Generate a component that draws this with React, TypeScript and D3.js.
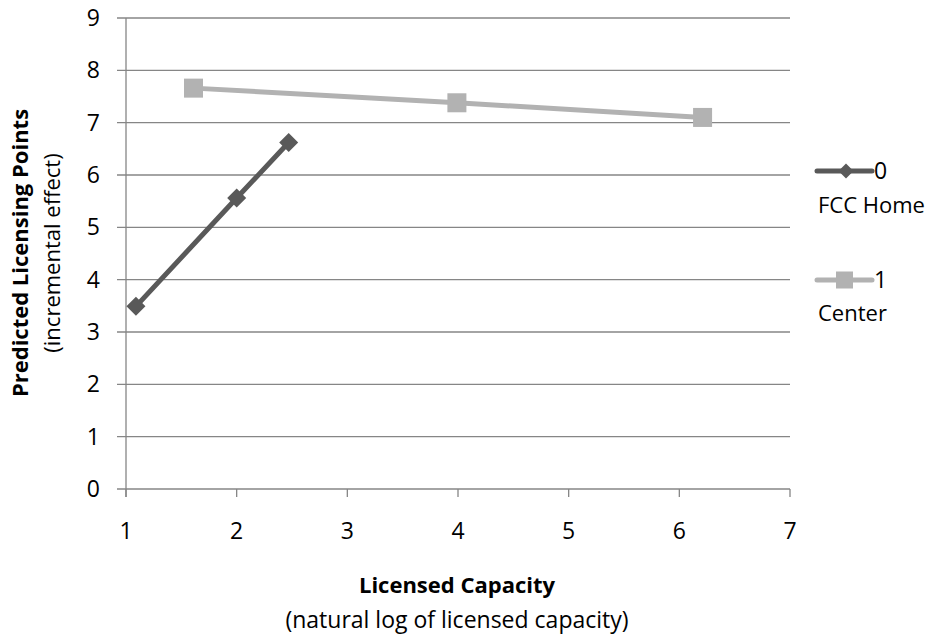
import React from "react";
import * as d3 from "d3";

const xTicks = [1, 2, 3, 4, 5, 6, 7];
const yTicks = [0, 1, 2, 3, 4, 5, 6, 7, 8, 9];
const seriesNames = ["0", "1"];
const legendSub = ["FCC Home", "Center"];
const fccX = [1.09, 2.0, 2.47];
const fccY = [3.49, 5.56, 6.62];
const centerX = [1.61, 3.99, 6.21];
const centerY = [7.66, 7.38, 7.1];

const W = 932;
const H = 635;
const FONT = "'Open Sans', Lato, sans-serif";
const FS = 22;
const TFS = 23;

export default function App() {
  const x = d3.scaleLinear().domain([1, 7]).range([126, 790]);
  const y = d3.scaleLinear().domain([0, 9]).range([489, 18]);
  const line = d3
    .line<[number, number]>()
    .x((d) => x(d[0]))
    .y((d) => y(d[1]));
  const fcc: [number, number][] = fccX.map((v, i) => [v, fccY[i]]);
  const cen: [number, number][] = centerX.map((v, i) => [v, centerY[i]]);
  const grid = "#868686";
  const dark = "#595959";
  const light = "#b2b2b2";
  const diamond = (cx: number, cy: number, r: number) =>
    `M${cx},${cy - r}L${cx + r},${cy}L${cx},${cy + r}L${cx - r},${cy}Z`;

  return (
    <svg
      width={W}
      height={H}
      style={{ position: "absolute", left: 0, top: 0, background: "#fff" }}
      fontFamily={FONT}
    >
      {yTicks.map((t) => (
        <g key={"y" + t}>
          <line x1={117} x2={790} y1={y(t)} y2={y(t)} stroke={grid} strokeWidth={1.3} />
          <text x={100} y={y(t)} dy="0.35em" textAnchor="end" fontSize={TFS} fill="#000">
            {t}
          </text>
        </g>
      ))}
      <line x1={126} x2={126} y1={18} y2={497} stroke={grid} strokeWidth={1.3} />
      {xTicks.map((t) => (
        <g key={"x" + t}>
          <line x1={x(t)} x2={x(t)} y1={489} y2={497} stroke={grid} strokeWidth={1.3} />
          <text x={x(t)} y={531} dy="0.35em" textAnchor="middle" fontSize={TFS} fill="#000">
            {t}
          </text>
        </g>
      ))}
      <path d={line(fcc) || ""} fill="none" stroke={dark} strokeWidth={5} />
      {fcc.map((d, i) => (
        <path key={"d" + i} d={diamond(x(d[0]), y(d[1]), 9.5)} fill={dark} />
      ))}
      <path d={line(cen) || ""} fill="none" stroke={light} strokeWidth={5} />
      {cen.map((d, i) => (
        <rect key={"s" + i} x={x(d[0]) - 9.5} y={y(d[1]) - 9.5} width={19} height={19} fill={light} />
      ))}
      {/* legend */}
      <line x1={817} x2={872} y1={171} y2={171} stroke={dark} strokeWidth={5} strokeLinecap="round" />
      <path d={diamond(846, 171, 7.5)} fill={dark} />
      <text x={874} y={171} dy="0.35em" fontSize={TFS}>{seriesNames[0]}</text>
      <text x={818} y={205} dy="0.35em" fontSize={FS}>{legendSub[0]}</text>
      <line x1={817} x2={872} y1={280} y2={280} stroke={light} strokeWidth={5} strokeLinecap="round" />
      <rect x={836} y={271.5} width={17} height={17} fill={light} />
      <text x={874} y={280} dy="0.35em" fontSize={TFS}>{seriesNames[1]}</text>
      <text x={818} y={313} dy="0.35em" fontSize={FS}>{legendSub[1]}</text>
      {/* axis titles */}
      <text x={457} y={585} dy="0.35em" textAnchor="middle" fontSize={FS} fontWeight="bold">
        Licensed Capacity
      </text>
      <text x={457} y={620} dy="0.35em" textAnchor="middle" fontSize={23}>
        (natural log of licensed capacity)
      </text>
      <text
        transform="translate(20,253) rotate(-90)"
        dy="0.35em"
        textAnchor="middle"
        fontSize={FS}
        fontWeight="bold"
      >
        Predicted Licensing Points
      </text>
      <text transform="translate(52,253) rotate(-90)" dy="0.35em" textAnchor="middle" fontSize={FS}>
        (incremental effect)
      </text>
    </svg>
  );
}
